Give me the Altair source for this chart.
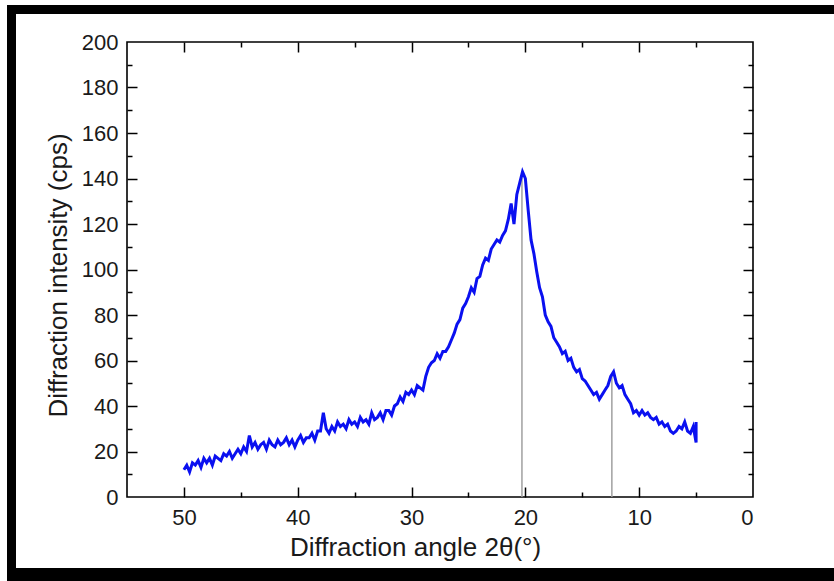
import altair as alt
import pandas as pd

# Diffraction intensity (cps), 50.00 deg down to 5.00 deg in 0.25 deg steps
intensity = [
    12, 14, 11, 15,    # 50
    14, 16, 13, 17,    # 49
    15, 17, 14, 18,    # 48
    17, 16, 19, 18,    # 47
    20, 17, 19, 21,    # 46
    19, 22, 20, 27,    # 45
    22, 24, 21, 23,    # 44
    24, 21, 25, 23,    # 43
    22, 25, 23, 24,    # 42
    26, 23, 25, 22,    # 41
    25, 27, 24, 26,    # 40
    26, 28, 25, 29,    # 39
    29, 37, 30, 28,    # 38
    31, 29, 33, 31,    # 37
    32, 30, 34, 32,    # 36
    33, 31, 35, 33,    # 35
    34, 32, 37, 34,    # 34
    35, 37, 34, 38,    # 33
    38, 36, 40, 41,    # 32
    44, 42, 46, 45,    # 31
    47, 45, 49, 48,    # 30
    47, 53, 57, 59,    # 29
    60, 63, 61, 64,    # 28
    64, 66, 69, 72,    # 27
    76, 78, 83, 85,    # 26
    88, 92, 90, 96,    # 25
    97, 102, 105, 104, # 24
    109, 111, 113, 112,  # 23
    115, 117, 122, 129,  # 22
    120, 133, 138, 143,  # 21
    140, 126, 113, 107,  # 20
    99, 92, 88, 80,    # 19
    77, 75, 70, 68,    # 18
    66, 63, 64, 60,    # 17
    61, 57, 55, 56,    # 16
    52, 51, 49, 47,    # 15
    45, 46, 43, 45,    # 14
    47, 49, 53, 55,    # 13
    50, 48, 49, 45,    # 12
    43, 41, 37, 38,    # 11
    36, 38, 36, 37,    # 10
    35, 34, 35, 32,    # 9
    33, 31, 32, 29,    # 8
    28, 29, 31, 30,    # 7
    33, 29, 28, 31,    # 6
    24, 33, 27,        # 5 (vertical spike at the end of the scan)
]
angle = [round(50 - 0.25 * i, 2) for i in range(180)] + [5.0, 5.0, 5.0]

# grey marker lines at the two peaks
peak_angle = [20.3, 12.4]
peak_height = [143, 54]

# axes
x_label_values = [0, 10, 20, 30, 40, 50]
x_tick_values = [5, 10, 15, 20, 25, 30, 35, 40, 45, 50]
y_label_values = [0, 20, 40, 60, 80, 100, 120, 140, 160, 180, 200]
y_tick_values = [10, 20, 30, 40, 50, 60, 70, 80, 90, 100, 110, 120, 130, 140, 150, 160, 170, 180, 190]

curve = pd.DataFrame({"angle": angle, "intensity": intensity, "idx": list(range(len(angle)))})
peaks = pd.DataFrame({"angle": peak_angle, "top": peak_height, "base": [0] * len(peak_angle)})
dummy = pd.DataFrame({"k": [0]})

W, H = 626, 455
FONT = "Liberation Sans"
TXT = "#1a1a1a"

xscale = alt.Scale(domain=[0, 55], reverse=True, nice=False, zero=False)
yscale = alt.Scale(domain=[0, 200], nice=False, zero=False)

tick_x = {"condition": {"test": "datum.value % 10 === 0", "value": 10}, "value": 5}
tick_y = {"condition": {"test": "datum.value % 20 === 0", "value": 10}, "value": 5}


def inward_axis(orient, offset, values, size):
    return alt.Axis(orient=orient, offset=offset, values=values, labels=False, domain=False,
                    grid=False, title=None, tickSize=size, tickWidth=1.5, tickColor="black")


line = alt.Chart(curve).mark_line(color="#0a10f0", strokeWidth=3, clip=True).encode(
    x=alt.X("angle:Q", scale=xscale,
            axis=alt.Axis(orient="bottom", values=x_label_values, ticks=False, domain=False, grid=False,
                          labelFont=FONT, labelFontSize=22, labelColor=TXT, labelPadding=10,
                          title="Diffraction angle 2θ(°)", titleFont=FONT, titleFontSize=26,
                          titleFontWeight="normal", titleColor=TXT, titlePadding=6, titleX=288)),
    y=alt.Y("intensity:Q", scale=yscale,
            axis=alt.Axis(orient="left", values=y_label_values, ticks=False, domain=False, grid=False,
                          labelFont=FONT, labelFontSize=22, labelColor=TXT, labelPadding=9,
                          title="Diffraction intensity (cps)", titleFont=FONT, titleFontSize=26,
                          titleFontWeight="normal", titleColor=TXT, titlePadding=10, titleY=233)),
    order="idx:Q",
)

rules = alt.Chart(peaks).mark_rule(color="#a0a0a0", strokeWidth=1.5).encode(
    x=alt.X("angle:Q", scale=xscale, axis=inward_axis("top", -H, x_tick_values, tick_x)),
    y=alt.Y("base:Q", scale=yscale, axis=inward_axis("right", -W, y_tick_values, tick_y)),
    y2="top:Q",
)

ghost = alt.Chart(peaks).mark_rule(strokeOpacity=0).encode(
    x=alt.X("angle:Q", scale=xscale, axis=inward_axis("bottom", -H, x_tick_values, tick_x)),
    y=alt.Y("base:Q", scale=yscale, axis=inward_axis("left", -W, y_tick_values, tick_y)),
    y2="top:Q",
)


def band(x1, x2, y1, y2):
    return alt.Chart(dummy).mark_rect(color="black").encode(
        x=alt.value(x1), x2=alt.value(x2), y=alt.value(y1), y2=alt.value(y2))


frame = [band(-120, 707, -37, -28), band(-120, -111, -37, 539), band(-120, 707, 526, 539)]

chart = alt.layer(rules, line, ghost, *frame).resolve_axis(
    x="independent", y="independent"
).properties(
    width=W, height=H,
    padding={"left": 127, "top": 42, "right": 81, "bottom": 84},
    autosize=alt.AutoSizeParams(type="none"),
    background="white",
).configure_view(stroke="black", strokeWidth=1.6)

chart.save("out.html", embed_options={"renderer": "svg", "actions": False})
